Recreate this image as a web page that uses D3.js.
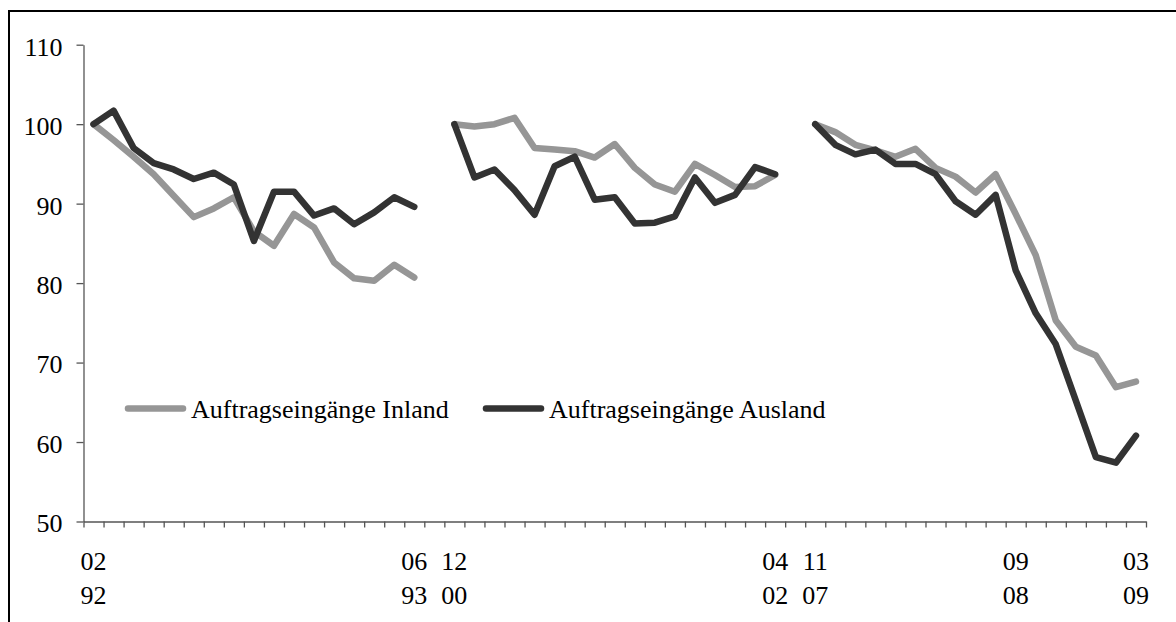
<!DOCTYPE html>
<html>
<head>
<meta charset="utf-8">
<script src="https://cdn.jsdelivr.net/npm/d3@7"></script>
<style>
  body { margin: 0; background: #fff; }
  svg text { font-family: "Liberation Serif", "Times New Roman", serif; font-size: 26px; fill: #000; }
</style>
</head>
<body>
<div id="chart"></div>
<script>
// month/year categories, "" = empty slot between the three periods
var categories = [
    "02/92","03/92","04/92","05/92","06/92","07/92","08/92","09/92","10/92","11/92","12/92",
    "01/93","02/93","03/93","04/93","05/93","06/93",
    "",
    "12/00","01/01","02/01","03/01","04/01","05/01","06/01","07/01","08/01","09/01","10/01","11/01","12/01",
    "01/02","02/02","03/02","04/02",
    "",
    "11/07","12/07","01/08","02/08","03/08","04/08","05/08","06/08","07/08","08/08","09/08","10/08","11/08","12/08",
    "01/09","02/09","03/09"
];

// categories that get a label under the axis
var tickLabels = ["02/92", "06/93", "12/00", "04/02", "11/07", "09/08", "03/09"];

var yTicks = [50, 60, 70, 80, 90, 100, 110];

// Auftragseingänge Inland (index, start of each period = 100)
var inland = [
    100.0, 98.0, 95.9, 93.7, 91.0, 88.3, 89.4, 90.8, 86.5, 84.7, 88.7, 87.0, 82.6, 80.6, 80.3, 82.3, 80.7,
    null,
    100.0, 99.7, 100.0, 100.8, 97.0, 96.8, 96.6, 95.8, 97.5, 94.5, 92.4, 91.5, 95.0, 93.6, 92.1, 92.2, 93.6,
    null,
    100.0, 99.0, 97.4, 96.7, 95.9, 96.9, 94.5, 93.4, 91.4, 93.7, 88.7, 83.5, 75.3, 72.0, 70.9, 66.9, 67.6
];

// Auftragseingänge Ausland
var ausland = [
    100.0, 101.7, 97.0, 95.1, 94.3, 93.1, 93.9, 92.4, 85.3, 91.5, 91.5, 88.5, 89.4, 87.4, 88.9, 90.8, 89.6,
    null,
    100.0, 93.3, 94.3, 91.7, 88.6, 94.7, 95.9, 90.5, 90.8, 87.5, 87.6, 88.4, 93.3, 90.1, 91.1, 94.6, 93.7,
    null,
    100.0, 97.4, 96.2, 96.8, 95.0, 95.0, 93.7, 90.3, 88.6, 91.1, 81.6, 76.2, 72.3, 65.2, 58.1, 57.4, 60.8
];

var seriesNames = ["Auftragseingänge Inland", "Auftragseingänge Ausland"];
var seriesColors = ["#969696", "#333333"];

var width = 1176, height = 622;
var plot = {left: 83.5, right: 1146, top: 44.7, bottom: 521.5};

var svg = d3.select("#chart").append("svg")
    .attr("width", width)
    .attr("height", height);

// frame (only left and top edges are visible in the picture)
svg.append("path")
    .attr("d", "M9,622V11H1176")
    .attr("fill", "none")
    .attr("stroke", "#000")
    .attr("stroke-width", 2);

var x = d3.scaleBand()
    .domain(d3.range(categories.length))
    .range([plot.left, plot.right])
    .padding(0);

// ticks sit on the category boundaries
var xEdge = d3.scaleLinear()
    .domain([0, categories.length])
    .range([plot.left, plot.right]);

var y = d3.scaleLinear()
    .domain([50, 110])
    .range([plot.bottom, plot.top]);

// y axis
var yAxis = svg.append("g")
    .attr("transform", "translate(" + plot.left + ",0)")
    .call(d3.axisLeft(y).tickValues(yTicks).tickSize(7).tickSizeOuter(0).tickPadding(14));
yAxis.select(".domain").attr("stroke", "#555").attr("stroke-width", 1.3);
yAxis.selectAll(".tick line").attr("stroke", "#555").attr("stroke-width", 1.3);
yAxis.selectAll(".tick text")
    .attr("dy", "0.4em")
    .style("font-family", "'Liberation Serif', serif")
    .style("font-size", "26px")
    .attr("fill", "#000");

// x axis
var xAxis = svg.append("g")
    .attr("transform", "translate(0," + plot.bottom + ")")
    .call(d3.axisBottom(xEdge).tickValues(d3.range(categories.length + 1)).tickFormat("").tickSize(6).tickSizeOuter(0));
xAxis.select(".domain").attr("stroke", "#555").attr("stroke-width", 1.3);
xAxis.selectAll(".tick line").attr("stroke", "#555").attr("stroke-width", 1.3);

var labelIdx = categories.map(function (c, i) { return i; })
    .filter(function (i) { return tickLabels.indexOf(categories[i]) >= 0; });

var xLabels = svg.append("g").selectAll("text")
    .data(labelIdx)
    .enter().append("text")
    .attr("text-anchor", "middle");
xLabels.append("tspan")
    .attr("x", function (i) { return x(i) + x.bandwidth() / 2; })
    .attr("y", 570)
    .text(function (i) { return categories[i].split("/")[0]; });
xLabels.append("tspan")
    .attr("x", function (i) { return x(i) + x.bandwidth() / 2; })
    .attr("y", 604)
    .text(function (i) { return categories[i].split("/")[1]; });

// lines
var line = d3.line()
    .defined(function (d) { return d != null; })
    .x(function (d, i) { return x(i) + x.bandwidth() / 2; })
    .y(function (d) { return y(d); });

[inland, ausland].forEach(function (s, k) {
    svg.append("path")
        .datum(s)
        .attr("d", line)
        .attr("fill", "none")
        .attr("stroke", seriesColors[k])
        .attr("stroke-width", 6.5)
        .attr("stroke-linejoin", "round")
        .attr("stroke-linecap", "round");
});

// legend
var legendX = [125, 483];
var legendY = 408.5;
seriesNames.forEach(function (name, k) {
    svg.append("line")
        .attr("x1", legendX[k] + 3)
        .attr("x2", legendX[k] + 58)
        .attr("y1", legendY)
        .attr("y2", legendY)
        .attr("stroke", seriesColors[k])
        .attr("stroke-width", 6.5)
        .attr("stroke-linecap", "round");
    svg.append("text")
        .attr("x", legendX[k] + 66)
        .attr("y", legendY + 9)
        .text(name);
});
</script>
</body>
</html>
